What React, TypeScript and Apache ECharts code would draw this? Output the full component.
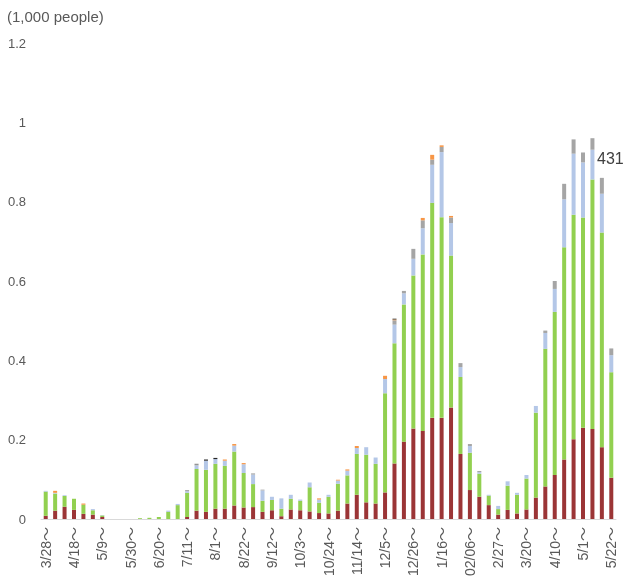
import React, { useEffect, useRef } from "react";
import * as echarts from "echarts";

const categories = [
  "3/28～","4/4～","4/11～","4/18～","4/25～","5/2～","5/9～","5/16～","5/23～","5/30～",
  "6/6～","6/13～","6/20～","6/27～","7/4～","7/11～","7/18～","7/25～","8/1～","8/8～",
  "8/15～","8/22～","8/29～","9/5～","9/12～","9/19～","9/26～","10/3～","10/10～","10/17～",
  "10/24～","10/31～","11/7～","11/14～","11/21～","11/28～","12/5～","12/12～","12/19～","12/26～",
  "1/2～","1/9～","1/16～","1/23～","1/30～","02/06～","2/13～","2/20～","2/27～","3/6～",
  "3/13～","3/20～","3/27～","4/3～","4/10～","4/17～","4/24～","5/1～","5/8～","5/15～","5/22～",
];

const seriesRed = [
  0.008,0.021,0.031,0.023,0.013,0.011,0.005,0,0,0,
  0,0,0,0,0,0.005,0.021,0.018,0.026,0.026,
  0.034,0.029,0.030,0.018,0.022,0.007,0.024,0.022,0.019,0.015,
  0.014,0.021,0.039,0.061,0.042,0.039,0.067,0.140,0.195,0.228,
  0.222,0.255,0.255,0.281,0.164,0.073,0.056,0.035,0.011,0.023,
  0.014,0.024,0.054,0.082,0.111,0.150,0.201,0.230,0.227,0.181,0.104,
];
const seriesGreen = [
  0.061,0.043,0.027,0.028,0.023,0.011,0.004,0,0,0,
  0.002,0.003,0.005,0.018,0.035,0.061,0.105,0.106,0.113,0.108,
  0.136,0.087,0.058,0.028,0.026,0.019,0.027,0.024,0.061,0.026,
  0.042,0.068,0.071,0.103,0.120,0.100,0.250,0.303,0.346,0.386,
  0.445,0.542,0.506,0.383,0.194,0.094,0.058,0.024,0.014,0.061,
  0.047,0.078,0.214,0.347,0.411,0.535,0.566,0.530,0.629,0.541,0.266,
];
const seriesBlue = [
  0.002,0.002,0.002,0,0,0.003,0.001,0,0,0,
  0,0,0,0.003,0.003,0.004,0.009,0.023,0.012,0.013,
  0.015,0.022,0.024,0.026,0.008,0.026,0.010,0.003,0.012,0.008,
  0.005,0.008,0.012,0.015,0.019,0.016,0.036,0.047,0.028,0.042,
  0.066,0.096,0.164,0.082,0.025,0.017,0.004,0.002,0.008,0.011,
  0.005,0.009,0.017,0.040,0.058,0.121,0.154,0.139,0.075,0.098,0.043,
];
const seriesGray = [
  0,0,0,0,0,0,0,0,0,0,
  0,0,0,0,0,0.003,0.003,0,0,0,
  0,0,0.003,0.002,0,0,0,0,0,0,
  0,0,0,0,0,0,0,0.011,0.006,0.025,
  0.020,0.013,0.013,0.014,0.010,0.005,0.003,0,0,0,
  0,0,0,0.006,0.020,0.039,0.036,0.025,0.029,0.040,0.017,
];
const seriesOrange = [
  0,0.005,0,0,0.003,0,0,0,0,0,
  0,0,0,0,0,0,0,0,0,0.003,
  0.004,0.003,0,0,0,0,0,0,0,0.003,
  0,0.002,0.003,0.005,0,0,0.008,0.002,0,0,
  0.006,0.012,0.004,0.004,0,0,0,0,0,0,
  0,0,0,0,0,0,0,0,0,0,0,
];
const seriesBlack = [
  0,0,0,0,0,0,0,0,0,0,
  0,0,0,0,0,0,0.001,0.003,0.003,0,
  0,0,0,0,0,0,0,0,0,0,
  0,0,0,0,0,0,0,0.002,0,0,
  0,0,0,0,0,0,0,0,0,0,
  0,0,0,0,0,0,0,0,0,0,0,
];

const yTicks = [0, 0.2, 0.4, 0.6, 0.8, 1, 1.2];
const unitLabel = "(1,000 people)";
const lastTotalLabel = "431";

const FONT = "'Liberation Sans', 'Noto Sans CJK JP', Arial, sans-serif";

export default function App() {
  const ref = useRef<HTMLDivElement>(null);
  useEffect(() => {
    if (!ref.current) return;
    const chart = echarts.init(ref.current, null, { renderer: "svg" });
    const mk = (name: string, data: number[], color: string) => ({
      name,
      type: "bar",
      stack: "total",
      data,
      barWidth: 4,
      itemStyle: { color },
    });
    chart.setOption({
      animation: false,
      textStyle: { fontFamily: FONT },
      grid: { left: 41, right: 8, top: 43, bottom: 66, containLabel: false },
      xAxis: {
        type: "category",
        data: categories,
        axisLine: { lineStyle: { color: "#d9d9d9", width: 1 } },
        axisTick: { show: false },
        axisLabel: {
          interval: 2,
          rotate: 90,
          margin: 8,
          fontSize: 14,
          color: "#595959",
          fontFamily: FONT,
        },
      },
      yAxis: {
        type: "value",
        min: yTicks[0],
        max: yTicks[yTicks.length - 1],
        interval: 0.2,
        splitLine: { show: false },
        axisLine: { show: false },
        axisTick: { show: false },
        axisLabel: {
          margin: 15,
          fontSize: 13,
          color: "#595959",
          fontFamily: FONT,
          formatter: (v: number) => String(+v.toFixed(1)),
        },
      },
      series: [
        mk("A", seriesRed, "#9b3536"),
        mk("B", seriesGreen, "#92d050"),
        mk("C", seriesBlue, "#b4c7e7"),
        mk("D", seriesGray, "#a5a5a5"),
        mk("E", seriesOrange, "#f79646"),
        mk("F", seriesBlack, "#262626"),
      ],
      graphic: [
        {
          type: "text",
          left: 7,
          top: 9,
          style: { text: unitLabel, fontSize: 15, fill: "#595959", fontFamily: FONT },
        },
        {
          type: "text",
          left: 597,
          top: 150,
          style: { text: lastTotalLabel, fontSize: 16, fill: "#404040", fontFamily: FONT },
        },
      ],
    });
    return () => chart.dispose();
  }, []);
  return (
    <div
      ref={ref}
      style={{ position: "fixed", left: 0, top: 0, width: 624, height: 585 }}
    />
  );
}
